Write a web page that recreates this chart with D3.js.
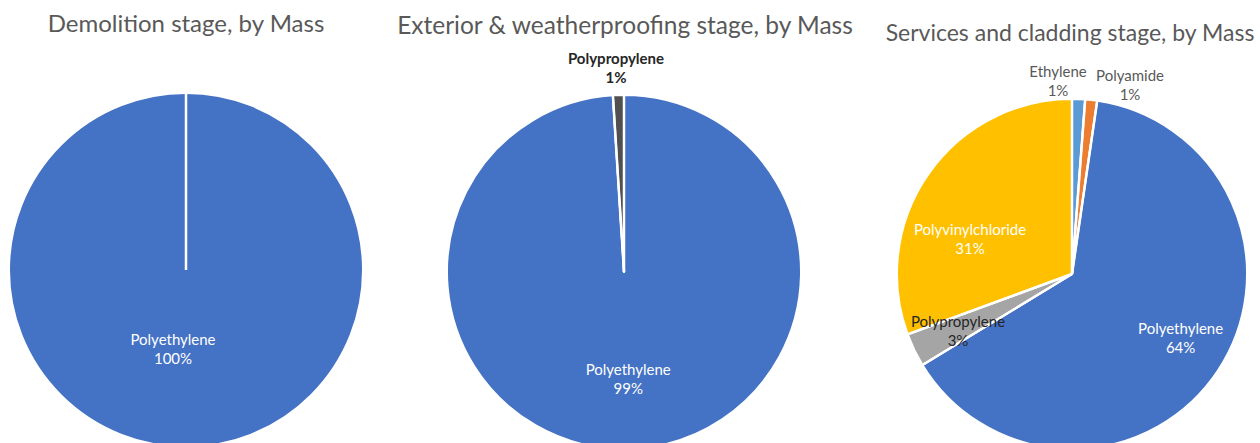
<!DOCTYPE html>
<html>
<head>
<meta charset="utf-8">
<script src="https://cdn.jsdelivr.net/npm/d3@7"></script>
<style>
  body { margin: 0; background: #fff; }
  svg { display: block; font-family: Lato, "Open Sans", sans-serif; }
</style>
</head>
<body>
<div id="chart"></div>
<script>
// Data (percent by mass)
const titles = [
  'Demolition stage, by Mass',
  'Exterior & weatherproofing stage, by Mass',
  'Services and cladding stage, by Mass'
];
const demolitionNames = ['Polyethylene'];
const demolitionValues = [100];
const exteriorNames = ['Polyethylene', 'Polypropylene'];
const exteriorValues = [99, 1];
const servicesNames = ['Ethylene', 'Polyamide', 'Polyethylene', 'Polypropylene', 'Polyvinylchloride'];
const servicesValues = [1.2, 1.1, 64.0, 3.1, 30.6];

// Colours per material (Excel-like palette)
const colorMap = {
  'Ethylene': '#5b9bd5',
  'Polyamide': '#ed7d31',
  'Polyethylene': '#4472c4',
  'Polypropylene': '#a5a5a5',
  'Polyvinylchloride': '#ffc000'
};

const width = 1260, height = 443;

// Layout for each pie
const pies = [
  { title: titles[0], names: demolitionNames, values: demolitionValues,
    cx: 186, cy: 270, r: 177, titleX: 186, titleY: 32, titleSize: 24,
    labels: { 'Polyethylene': { inside: true, dist: 75, dx: -13 } } },
  { title: titles[1], names: exteriorNames, values: exteriorValues,
    cx: 624, cy: 272, r: 177, titleX: 625, titleY: 34, titleSize: 24.5,
    colors: { 'Polypropylene': '#505050' },
    labels: {
      'Polyethylene': { inside: true, dist: 103, dx: 1 },
      'Polypropylene': { x: 616, y: 64, fill: '#262626', weight: 'bold' }
    } },
  { title: titles[2], names: servicesNames, values: servicesValues,
    cx: 1072, cy: 274, r: 175, titleX: 1070, titleY: 41, titleSize: 23,
    labels: {
      'Ethylene': { x: 1058, y: 77, fill: '#595959' },
      'Polyamide': { x: 1130, y: 81, fill: '#595959' },
      'Polyethylene': { inside: true, dist: 135, dx: -4, dy: -14 },
      'Polypropylene': { x: 958, y: 327, fill: '#262626' },
      'Polyvinylchloride': { x: 970, y: 235 }
    } }
];

const svg = d3.select('#chart')
  .append('svg')
    .attr('width', width)
    .attr('height', height);

const pieGen = d3.pie().sort(null).value(d => d.value);
const fmt = d3.format('.0f');

pies.forEach(p => {
  const rows = p.names.map((n, i) => ({ name: n, value: p.values[i] }));
  const arcs = pieGen(rows);
  const arc = d3.arc().innerRadius(0).outerRadius(p.r);

  // Title
  svg.append('text')
    .attr('x', p.titleX)
    .attr('y', p.titleY)
    .attr('text-anchor', 'middle')
    .attr('font-size', p.titleSize)
    .attr('fill', '#595959')
    .text(p.title);

  const g = svg.append('g')
    .attr('transform', `translate(${p.cx},${p.cy})`);

  g.selectAll('path')
    .data(arcs)
    .join('path')
      .attr('d', arc)
      .attr('fill', d => (p.colors && p.colors[d.data.name]) || colorMap[d.data.name])
      .attr('stroke', '#fff')
      .attr('stroke-width', 2)
      .attr('stroke-linejoin', 'round');

  // Slice borders along the radius (also shows on a single full slice)
  g.selectAll('line')
    .data(arcs)
    .join('line')
      .attr('x1', 0)
      .attr('y1', 0)
      .attr('x2', d => Math.sin(d.startAngle) * p.r)
      .attr('y2', d => -Math.cos(d.startAngle) * p.r)
      .attr('stroke', '#fff')
      .attr('stroke-width', 2.5);

  // Data labels
  arcs.forEach(d => {
    const L = p.labels[d.data.name];
    let x, y;
    if (L.inside) {
      const mid = (d.startAngle + d.endAngle) / 2;
      x = p.cx + Math.sin(mid) * L.dist + (L.dx || 0);
      y = p.cy - Math.cos(mid) * L.dist + (L.dy || 0);
    } else {
      x = L.x; y = L.y;
    }
    const t = svg.append('text')
      .attr('text-anchor', 'middle')
      .attr('font-size', 15)
      .attr('font-weight', L.weight || 'normal')
      .attr('fill', L.fill || '#fff');
    t.append('tspan').attr('x', x).attr('y', y).text(d.data.name);
    t.append('tspan').attr('x', x).attr('y', y + 19).text(fmt(d.data.value) + '%');
  });
});
</script>
</body>
</html>
